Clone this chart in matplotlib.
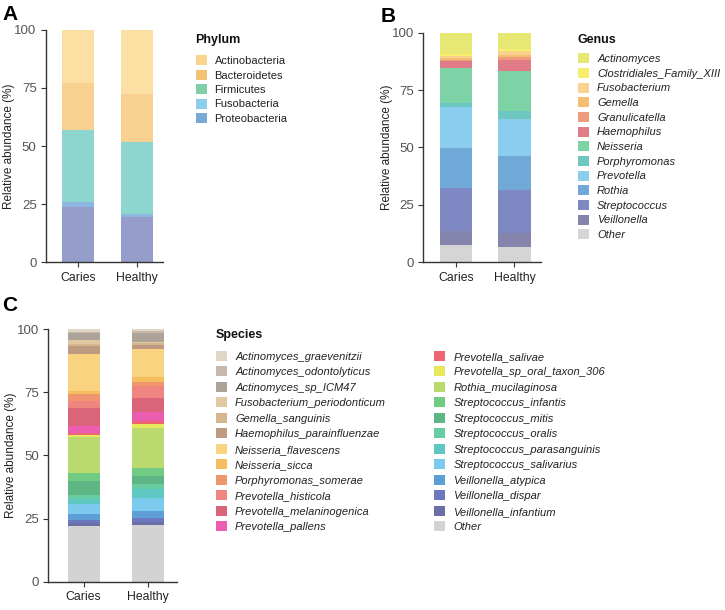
import matplotlib
matplotlib.use("Agg")
import matplotlib.pyplot as plt
from matplotlib.patches import Patch

plt.rcParams["font.family"] = ["Liberation Sans", "DejaVu Sans"]

groups = ["Caries", "Healthy"]

# Panel A - phylum (legend order, top of stack first)
phyla = ["Actinobacteria", "Bacteroidetes", "Firmicutes", "Fusobacteria", "Proteobacteria"]
phylum_caries = [22.7, 20.3, 31.0, 2.0, 24.0]
phylum_healthy = [27.7, 20.4, 31.2, 1.0, 19.7]
phylum_bar_colors = ["#FBDFA3", "#F8D08F", "#8DD6CF", "#8DB6E0", "#959DCB"]
phylum_leg_colors = ["#F9D48D", "#F3C173", "#7FD0A8", "#8CCDEB", "#76A9D6"]

# Panel B - genus
genera = ["Actinomyces", "Clostridiales_Family_XIII", "Fusobacterium", "Gemella",
          "Granulicatella", "Haemophilus", "Neisseria", "Porphyromonas", "Prevotella",
          "Rothia", "Streptococcus", "Veillonella", "Other"]
genus_caries = [9.4, 0.8, 1.0, 0.6, 0.5, 2.9, 15.6, 1.4, 18.2, 17.1, 18.7, 6.3, 7.5]
genus_healthy = [7.3, 0.7, 1.7, 0.8, 1.4, 4.8, 17.4, 3.5, 16.0, 15.1, 18.4, 6.1, 6.8]
genus_colors = ["#E6E873", "#F7EE6E", "#F9D28E", "#F4BE70", "#F09C7C", "#E17C86",
                "#7DD3A6", "#6DC8C2", "#8BCDEE", "#70A9D8", "#7E88C2", "#8484AD", "#D5D5D5"]

# Panel C - species
species = ["Actinomyces_graevenitzii", "Actinomyces_odontolyticus", "Actinomyces_sp_ICM47",
           "Fusobacterium_periodonticum", "Gemella_sanguinis", "Haemophilus_parainfluenzae",
           "Neisseria_flavescens", "Neisseria_sicca", "Porphyromonas_somerae",
           "Prevotella_histicola", "Prevotella_melaninogenica", "Prevotella_pallens",
           "Prevotella_salivae", "Prevotella_sp_oral_taxon_306", "Rothia_mucilaginosa",
           "Streptococcus_infantis", "Streptococcus_mitis", "Streptococcus_oralis",
           "Streptococcus_parasanguinis", "Streptococcus_salivarius", "Veillonella_atypica",
           "Veillonella_dispar", "Veillonella_infantium", "Other"]
species_caries = [1.1, 0.6, 2.5, 1.7, 0.7, 3.3, 14.5, 1.3, 2.9, 2.8, 6.8, 3.1, 0.5, 1.1,
                  13.9, 3.2, 5.7, 1.7, 2.0, 3.8, 2.4, 1.3, 0.9, 22.2]
species_healthy = [0.8, 0.9, 3.3, 0.6, 0.7, 1.4, 11.4, 2.0, 1.5, 4.6, 5.8, 3.3, 1.1, 1.9,
                   15.6, 3.1, 3.5, 1.8, 3.5, 5.2, 2.9, 1.4, 1.3, 22.4]
species_colors = ["#E0D6C6", "#C8B8AC", "#AEA398", "#E0C8A2", "#D4B68F", "#BE9A80",
                  "#F9D37F", "#F5BD5F", "#F0956E", "#EF8580", "#DA6479", "#EC5DB0",
                  "#EE6470", "#E8E85C", "#BADA70", "#72CB83", "#5DB683", "#68CDA2",
                  "#5EC7C2", "#7CCBEF", "#5D9ED6", "#6B78BD", "#6C6FA5", "#D3D3D3"]


def stacked(ax, caries, healthy, colors, width, label_x):
    # draw bottom-up: last legend entry sits at the bottom
    bottom = [0.0, 0.0]
    for c, h, col in reversed(list(zip(caries, healthy, colors))):
        ax.bar([0, 1], [c, h], width=width, bottom=bottom, color=col, linewidth=0)
        bottom = [bottom[0] + c, bottom[1] + h]
    ax.set_xlim(-0.55, 1.45)
    ax.set_ylim(0, 100)
    ax.set_xticks([0, 1])
    ax.set_xticklabels(groups, fontsize=8.8, color="#222")
    ax.set_yticks([0, 25, 50, 75, 100])
    ax.tick_params(axis="y", labelsize=9.5, labelcolor="#555", length=3.5, color="#333", pad=3)
    ax.tick_params(axis="x", length=3.5, color="#333")
    ax.spines[["top", "right"]].set_visible(False)
    for s in ["left", "bottom"]:
        ax.spines[s].set_color("#333")
        ax.spines[s].set_linewidth(1.0)
    ax.set_ylabel("Relative abundance (%)", fontsize=8.5, color="#222")
    ax.yaxis.set_label_coords(label_x, 0.5)


def legend(labels, colors, title, x_px, title_base_px, top_px, spacing, italic, ncol=1, colsp=2.0):
    fig.text(x_px / W, 1 - title_base_px / H, title, fontsize=9, fontweight="bold",
             va="baseline", ha="left", color="#111")
    handles = [Patch(facecolor=c, edgecolor="none") for c in colors]
    leg = fig.legend(handles, labels, loc="upper left",
                     bbox_to_anchor=(x_px / W, 1 - top_px / H),
                     frameon=False, ncol=ncol,
                     prop={"size": 8.0, "style": "italic" if italic else "normal"},
                     handlelength=1.0, handleheight=1.0, handletextpad=0.72,
                     labelspacing=spacing, borderpad=0, borderaxespad=0,
                     columnspacing=colsp)
    for t in leg.get_texts():
        t.set_color("#222")
    return leg


W, H = 725, 610
fig = plt.figure(figsize=(7.25, 6.1), dpi=100)

axA = fig.add_axes([0.063, 0.570, 0.162, 0.381])
stacked(axA, phylum_caries, phylum_healthy, phylum_bar_colors, 0.55, -0.262)
axB = fig.add_axes([0.584, 0.570, 0.162, 0.3764])
stacked(axB, genus_caries, genus_healthy, genus_colors, 0.55, -0.258)
axC = fig.add_axes([0.0666, 0.0464, 0.177, 0.414])
stacked(axC, species_caries, species_healthy, species_colors, 0.5, -0.246)

legend(phyla, phylum_leg_colors, "Phylum", 195.5, 43.3, 55.3, 0.33, False)
legend(genera, genus_colors, "Genus", 578, 43.3, 53.3, 0.35, True)
legend(species, species_colors, "Species", 216, 338.3, 351, 0.425, True, ncol=2, colsp=4.35)

fig.text(0.003, 1 - 5 / H, "A", fontsize=15, fontweight="bold", va="top")
fig.text(381 / W, 1 - 7 / H, "B", fontsize=15, fontweight="bold", va="top")
fig.text(0.003, 1 - 296 / H, "C", fontsize=15, fontweight="bold", va="top")

fig.savefig("out.png", dpi=100)
